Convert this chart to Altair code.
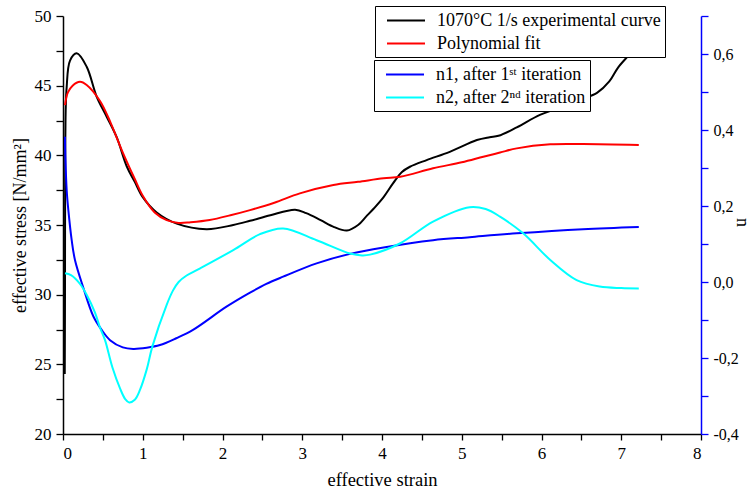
import altair as alt
import pandas as pd

# ---- data ----
exp_x = [0.022, 0.025, 0.028, 0.035, 0.046, 0.088, 0.172, 0.297, 0.423, 0.548, 0.673, 0.80, 0.90,
         1.0, 1.175, 1.426, 1.80, 2.135, 2.345, 2.6, 2.91, 3.05, 3.23, 3.4, 3.56, 3.7, 3.8, 3.9, 4.02,
         4.14, 4.25, 4.35, 4.56, 4.85, 5.19, 5.35, 5.46, 5.69, 5.98, 6.32, 6.5, 6.7, 6.85, 6.96, 7.11, 7.22]
exp_y = [24.3, 30.0, 40.0, 43.5, 44.9, 46.8, 47.32, 46.36, 44.2, 42.77, 41.3, 39.2, 38.1,
         37.0, 35.9, 35.1, 34.7, 35.0, 35.3, 35.7, 36.1, 35.85, 35.35, 34.85, 34.6, 35.0, 35.6, 36.2, 37.0,
         38.0, 38.8, 39.18, 39.66, 40.25, 41.1, 41.3, 41.4, 42.0, 42.9, 43.6, 44.0, 44.5, 45.3, 46.3, 47.3, 48.2]

fit_x = [0.025, 0.06, 0.12, 0.213, 0.297, 0.464, 0.6, 0.75, 0.9, 1.0, 1.15, 1.3, 1.45, 1.6, 1.84,
         2.1, 2.345, 2.65, 2.97, 3.39, 3.7, 4.02, 4.23, 4.64, 5.0, 5.27, 5.48, 5.69, 6.11, 6.52, 7.22]
fit_y = [43.6, 44.5, 45.0, 45.28, 45.05, 43.9, 42.3, 40.2, 38.3, 37.1, 35.9, 35.35, 35.15, 35.2, 35.36,
         35.7, 36.07, 36.6, 37.27, 37.87, 38.1, 38.35, 38.46, 39.07, 39.5, 39.9, 40.2, 40.5, 40.79, 40.81, 40.74]

n1_x = [0.025, 0.03, 0.046, 0.067, 0.109, 0.15, 0.255, 0.38, 0.485, 0.59, 0.75, 0.88, 1.05, 1.216,
        1.42, 1.63, 2.05, 2.345, 2.55, 2.76, 3.18, 3.6, 4.02, 4.64, 5.1, 5.69, 6.52, 7.22]
n1_y = [0.382, 0.33, 0.242, 0.189, 0.11, 0.058, -0.015, -0.09, -0.126, -0.153, -0.172, -0.176, -0.173,
        -0.166, -0.148, -0.126, -0.065, -0.028, -0.005, 0.014, 0.049, 0.074, 0.091, 0.11, 0.118, 0.128,
        0.139, 0.145]

n2_x = [0.025, 0.1, 0.213, 0.3, 0.4, 0.464, 0.527, 0.62, 0.715, 0.78, 0.83, 0.9, 0.965, 1.05, 1.12,
        1.3, 1.38, 1.45, 1.55, 1.72, 2.135, 2.47, 2.76, 3.18, 3.6, 3.75, 3.85, 4.23, 4.64, 5.1, 5.3,
        5.48, 5.77, 6.11, 6.44, 6.73, 7.0, 7.22]
n2_y = [0.023, 0.018, -0.005, -0.035, -0.08, -0.12, -0.153, -0.225, -0.28, -0.308, -0.317, -0.31,
        -0.284, -0.23, -0.17, -0.06, -0.022, 0.0, 0.017, 0.036, 0.084, 0.126, 0.141, 0.11, 0.075, 0.07,
        0.072, 0.102, 0.159, 0.197, 0.192, 0.172, 0.128, 0.058, 0.005, -0.012, -0.016, -0.017]

stress_names = ["1070°C 1/s experimental curve", "Polynomial fit"]
stress_colors = ["#000000", "#ff0000"]
n_names = ["n1, after 1ˢᵗ iteration", "n2, after 2ⁿᵈ iteration"]
n_colors = ["#0000ff", "#00ffff"]

x_ticks = [i * 0.5 for i in range(17)]
left_ticks = [20 + i * 2.5 for i in range(13)]
right_ticks = [round(-0.4 + i * 0.1, 1) for i in range(12)]

# ---- tables ----
stress_df = pd.concat([
    pd.DataFrame({"x": exp_x, "y": exp_y, "series": stress_names[0], "k": range(len(exp_x))}),
    pd.DataFrame({"x": fit_x, "y": fit_y, "series": stress_names[1], "k": range(len(fit_x))}),
])
n_df = pd.concat([
    pd.DataFrame({"x": n1_x, "y": n1_y, "series": n_names[0], "k": range(len(n1_x))}),
    pd.DataFrame({"x": n2_x, "y": n2_y, "series": n_names[1], "k": range(len(n2_x))}),
])

FONT = "Times New Roman, Liberation Serif, DejaVu Serif, serif"

x_axis = alt.Axis(
    values=x_ticks,
    labelExpr="datum.value % 1 == 0 ? datum.value : ''",
    title="effective strain",
    grid=False, tickSize=6, tickWidth=1.3, domainWidth=1.5,
    domainColor="black", tickColor="black", labelColor="black",
    labelFont=FONT, labelFontSize=17, titleFont=FONT, titleFontSize=18.5,
    titleFontWeight="normal", labelPadding=5, titlePadding=9,
)

x_enc = alt.X("x:Q", scale=alt.Scale(domain=[0, 8], nice=False, zero=False), axis=x_axis)

legend_common = dict(
    orient="none", title=None,
    fillColor="white", strokeColor="black", padding=4,
    symbolType="M-1,0H3", symbolSize=361, symbolStrokeWidth=2,
    symbolOffset=7,
    labelFont=FONT, labelFontSize=18, labelLimit=400,
    labelOffset=30, rowPadding=3, cornerRadius=0,
)

left = alt.Chart(stress_df).mark_line(strokeWidth=2, interpolate="catmull-rom").encode(
    x=x_enc,
    y=alt.Y("y:Q", scale=alt.Scale(domain=[20, 50], nice=False, zero=False),
            axis=alt.Axis(
                values=left_ticks,
                labelExpr="datum.value % 5 == 0 ? datum.value : ''",
                title="effective stress [N/mm²]",
                grid=False, tickSize=7, tickWidth=1.3, domainWidth=1.5,
                domainColor="black", tickColor="black", labelColor="black",
                labelFont=FONT, labelFontSize=17, titleFont=FONT, titleFontSize=18,
                titleFontWeight="normal", labelPadding=5, titlePadding=5,
            )),
    color=alt.Color("series:N",
                    scale=alt.Scale(domain=stress_names, range=stress_colors),
                    legend=alt.Legend(legendX=312, legendY=-10, **legend_common)),
    detail="series:N",
    order="k:Q",
)

right = alt.Chart(n_df).mark_line(strokeWidth=2, interpolate="catmull-rom").encode(
    x=x_enc,
    y=alt.Y("y:Q", scale=alt.Scale(domain=[-0.4, 0.7], nice=False, zero=False),
            axis=alt.Axis(
                orient="right",
                values=right_ticks,
                labelExpr="abs(round(datum.value*10)) % 2 == 0 ? replace((datum.value < 0 ? '-' : '') + format(abs(datum.value), '.1f'), '.', ',') : ''",
                title="n",
                grid=False, tickSize=7, tickWidth=1.3, domainWidth=1.5,
                domainColor="#0000ff", tickColor="#0000ff", labelColor="black",
                labelFont=FONT, labelFontSize=16, titleFont=FONT, titleFontSize=18,
                titleFontWeight="normal", labelPadding=5,
                titleX=40, titleY=206, titleAngle=90, titleBaseline="middle", titleAlign="center",
            )),
    color=alt.Color("series:N",
                    scale=alt.Scale(domain=n_names, range=n_colors),
                    legend=alt.Legend(legendX=311, legendY=44, **legend_common)),
    detail="series:N",
    order="k:Q",
)

chart = alt.layer(left, right).resolve_scale(
    y="independent", color="independent"
).properties(
    width=638, height=418,
    autosize=alt.AutoSizeParams(type="none"),
    padding={"left": 63, "top": 16, "right": 49, "bottom": 58},
    background="white",
).configure(font=FONT).configure_axis(
    labelFont=FONT, titleFont=FONT
).configure_legend(
    labelFont=FONT
).configure_view(stroke=None)

chart.save("out.html", embed_options={"renderer": "svg", "actions": False})
